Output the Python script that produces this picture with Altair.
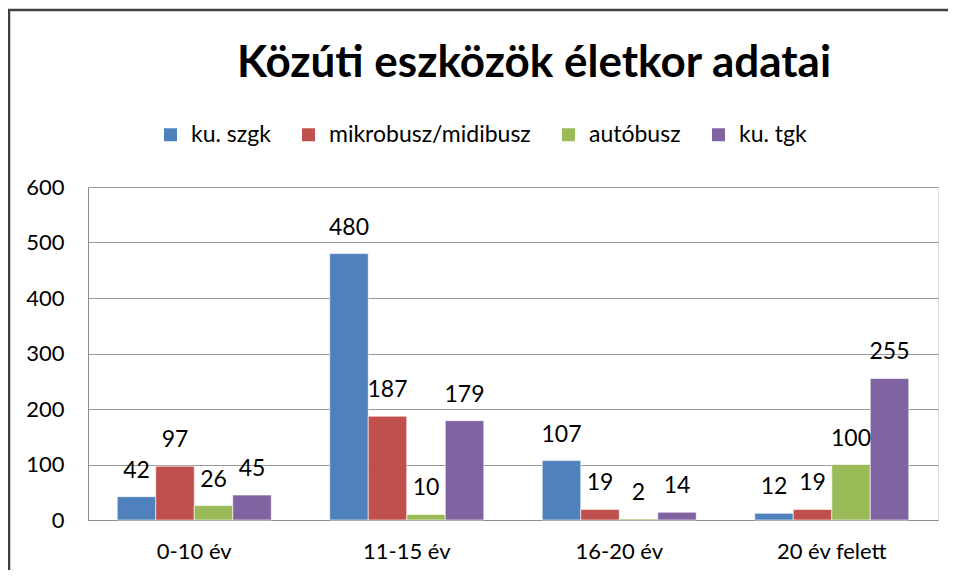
import altair as alt
import pandas as pd

categories = ["0-10 év", "11-15 év", "16-20 év", "20 év felett"]
series = ["ku. szgk", "mikrobusz/midibusz", "autóbusz", "ku. tgk"]
ku_szgk = [42, 480, 107, 12]
mikrobusz = [97, 187, 19, 19]
autobusz = [26, 10, 2, 100]
ku_tgk = [45, 179, 14, 255]
colors = ["#4F81BD", "#C0504D", "#9BBB59", "#8064A2"]
y_ticks = [0, 100, 200, 300, 400, 500, 600]

rows = []
for s, vals in zip(series, [ku_szgk, mikrobusz, autobusz, ku_tgk]):
    for c, v in zip(categories, vals):
        rows.append({"kategoria": c, "sorozat": s, "ertek": v})
df = pd.DataFrame(rows)

FONT = "Lato"

x_enc = alt.X(
    "kategoria:N", sort=categories, title=None,
    scale=alt.Scale(paddingInner=0.275, paddingOuter=0.1375),
    axis=alt.Axis(labelAngle=0, ticks=False, domainColor="#8c8c8c", domainWidth=1,
                  labelFontSize=22, labelFont=FONT, labelColor="#000000", labelPadding=21),
)
y_enc = alt.Y(
    "ertek:Q", title=None,
    scale=alt.Scale(domain=[0, 600], nice=False),
    axis=alt.Axis(values=y_ticks, ticks=False, domain=True, domainColor="#8c8c8c",
                  grid=True, gridColor="#9a9a9a", gridWidth=1,
                  labelFontSize=22, labelFont=FONT, labelColor="#000000", labelPadding=24),
)
xoff = alt.XOffset("sorozat:N", sort=series, scale=alt.Scale(domain=series, paddingInner=0, paddingOuter=0))

bars = alt.Chart(df).mark_bar(stroke="white", strokeWidth=0.6).encode(
    x=x_enc, y=y_enc, xOffset=xoff,
    color=alt.Color(
        "sorozat:N", sort=series,
        scale=alt.Scale(domain=series, range=colors),
        legend=alt.Legend(
            title=None, orient="none", legendX=71, legendY=-64,
            direction="horizontal", columns=4, symbolType="square", symbolSize=169,
            symbolStrokeWidth=0, labelFontSize=23, labelFont=FONT, labelColor="#000000",
            columnPadding=26, labelOffset=9, labelLimit=400,
        ),
    ),
)

labels = alt.Chart(df).mark_text(
    font=FONT, fontSize=23, color="#000000", baseline="middle", align="center", dy=-26
).encode(x=x_enc, y=y_enc, xOffset=xoff, text=alt.Text("ertek:Q"))

one = pd.DataFrame({"k": [0]})
frame_left = alt.Chart(one).mark_rule(color="#404040", strokeWidth=2.5).encode(
    x=alt.value(-79), y=alt.value(-177), y2=alt.value(383)
)
frame_top = alt.Chart(one).mark_rule(color="#404040", strokeWidth=2.5).encode(
    x=alt.value(-80), x2=alt.value(860), y=alt.value(-177)
)

chart = alt.layer(bars, labels, frame_left, frame_top).properties(
    width=850, height=333,
    autosize=alt.AutoSizeParams(type="none"),
    padding={"left": 80, "top": 179, "right": 10, "bottom": 50},
    title=alt.Title("Közúti eszközök életkor adatai", font=FONT, fontSize=44, fontWeight="bold",
                    color="#000000", anchor="middle", dx=21, offset=-77),
).configure_view(stroke=None).configure(background="white")

chart.save("out.html", embed_options={"renderer": "svg", "actions": False})
